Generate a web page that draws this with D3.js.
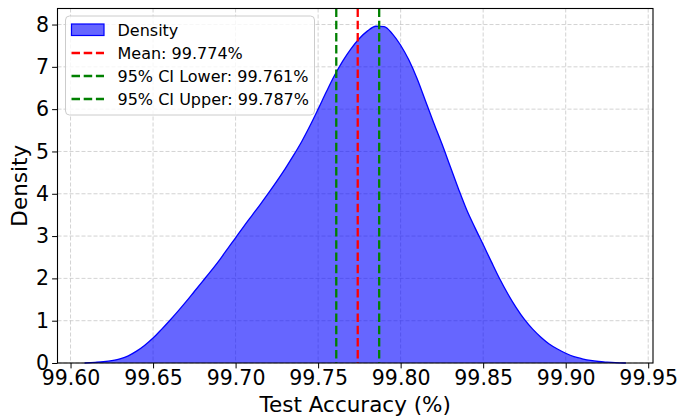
<!DOCTYPE html>
<html>
<head>
<meta charset="utf-8">
<script src="https://cdn.jsdelivr.net/npm/d3@7"></script>
<style>
  body { margin: 0; background: #fff; }
  svg { font-family: "DejaVu Sans", sans-serif; }
</style>
</head>
<body>
<div id="chart"></div>
<script>
// 1: DATA
const accuracy = [99.6085, 99.615, 99.620, 99.625, 99.630, 99.635, 99.640, 99.645, 99.650, 99.655,
    99.660, 99.665, 99.670, 99.675, 99.680, 99.685, 99.690, 99.695, 99.700, 99.705,
    99.710, 99.715, 99.720, 99.725, 99.730, 99.735, 99.740, 99.745, 99.750, 99.755,
    99.760, 99.765, 99.770, 99.775, 99.780, 99.785, 99.790, 99.795, 99.800, 99.805,
    99.810, 99.815, 99.820, 99.825, 99.830, 99.835, 99.840, 99.845, 99.850, 99.855,
    99.860, 99.865, 99.870, 99.875, 99.880, 99.885, 99.890, 99.895, 99.900, 99.905,
    99.910, 99.915, 99.920, 99.925, 99.930, 99.9365];
const density = [0.00, 0.015, 0.03, 0.055, 0.10, 0.17, 0.28, 0.42, 0.59, 0.79,
    1.00, 1.22, 1.45, 1.69, 1.93, 2.17, 2.42, 2.69, 2.96, 3.23,
    3.49, 3.75, 4.02, 4.30, 4.59, 4.90, 5.23, 5.60, 6.00, 6.41,
    6.80, 7.14, 7.43, 7.67, 7.85, 7.96, 7.95, 7.78, 7.51, 7.16,
    6.72, 6.20, 5.68, 5.18, 4.65, 4.12, 3.62, 3.20, 2.80, 2.39,
    1.99, 1.63, 1.31, 1.03, 0.80, 0.61, 0.45, 0.33, 0.23, 0.15,
    0.10, 0.06, 0.035, 0.02, 0.008, 0.00];
const xTicks = [99.60, 99.65, 99.70, 99.75, 99.80, 99.85, 99.90, 99.95];
const yTicks = [0, 1, 2, 3, 4, 5, 6, 7, 8];
const refLines = [
    { label: "Mean: 99.774%", value: 99.774, color: "red" },
    { label: "95% CI Lower: 99.761%", value: 99.761, color: "green" },
    { label: "95% CI Upper: 99.787%", value: 99.787, color: "green" }
];

const data = accuracy.map((a, i) => ({ x: a, y: density[i] }));

// 2: LAYOUT
const W = 678, H = 418;
const plot = { left: 57.5, right: 653, top: 8.5, bottom: 363 };

const svg = d3.select("#chart").append("svg")
    .attr("width", W)
    .attr("height", H);

// 3: SCALES
const xPad = (d3.max(accuracy) - d3.min(accuracy)) * 0.05;
const x = d3.scaleLinear()
    .domain([d3.min(accuracy) - xPad, d3.max(accuracy) + xPad])
    .range([plot.left, plot.right]);

const y = d3.scaleLinear()
    .domain([0, 7.98 * 1.05])
    .range([plot.bottom, plot.top]);

// grid
const grid = svg.append("g")
    .attr("stroke", "#b0b0b0")
    .attr("stroke-opacity", 0.7)
    .attr("stroke-width", 0.8)
    .attr("stroke-dasharray", "4,2");

grid.selectAll(".gx").data(xTicks).enter().append("line")
    .attr("x1", d => x(d)).attr("x2", d => x(d))
    .attr("y1", plot.top).attr("y2", plot.bottom);

grid.selectAll(".gy").data(yTicks).enter().append("line")
    .attr("x1", plot.left).attr("x2", plot.right)
    .attr("y1", d => y(d)).attr("y2", d => y(d));

// 4: PLOT DATA
svg.append("path")
    .datum(data)
    .attr("fill", "blue")
    .attr("fill-opacity", 0.6)
    .attr("d", d3.area()
        .x(d => x(d.x))
        .y0(y(0))
        .y1(d => y(d.y))
        .curve(d3.curveMonotoneX));

svg.append("path")
    .datum(data)
    .attr("fill", "none")
    .attr("stroke", "blue")
    .attr("stroke-width", 1.3)
    .attr("d", d3.line()
        .x(d => x(d.x))
        .y(d => y(d.y))
        .curve(d3.curveMonotoneX));

svg.selectAll(".ref")
    .data(refLines)
    .enter()
    .append("line")
    .attr("x1", d => x(d.value)).attr("x2", d => x(d.value))
    .attr("y1", plot.top).attr("y2", plot.bottom)
    .attr("stroke", d => d.color)
    .attr("stroke-width", 2.3)
    .attr("stroke-dasharray", "8.5,3.7");

// 5: AXES
const xAxis = svg.append("g")
    .attr("transform", `translate(0,${plot.bottom})`)
    .call(d3.axisBottom(x).tickValues(xTicks).tickFormat(d3.format(".2f")).tickSize(5.4).tickPadding(2.5));

const yAxis = svg.append("g")
    .attr("transform", `translate(${plot.left},0)`)
    .call(d3.axisLeft(y).tickValues(yTicks).tickFormat(d3.format("d")).tickSize(5.4).tickPadding(3));

[xAxis, yAxis].forEach(g => {
    g.select(".domain").remove();
    g.selectAll("line").attr("stroke", "#000").attr("stroke-width", 1);
    g.selectAll("text").attr("fill", "#000").attr("font-size", "20.5px")
        .attr("font-family", "DejaVu Sans, sans-serif");
});

// frame
svg.append("rect")
    .attr("x", plot.left).attr("y", plot.top)
    .attr("width", plot.right - plot.left)
    .attr("height", plot.bottom - plot.top)
    .attr("fill", "none")
    .attr("stroke", "#000")
    .attr("stroke-width", 1.1);

// 6: LABELS
svg.append("text")
    .attr("x", (plot.left + plot.right) / 2)
    .attr("y", 412)
    .attr("text-anchor", "middle")
    .attr("font-size", "21.5px")
    .text("Test Accuracy (%)");

svg.append("text")
    .attr("transform", `translate(27,${(plot.top + plot.bottom) / 2}) rotate(-90)`)
    .attr("text-anchor", "middle")
    .attr("font-size", "21.5px")
    .text("Density");

// legend
const legend = svg.append("g").attr("transform", "translate(65.5,16)");
legend.append("rect")
    .attr("width", 249).attr("height", 99)
    .attr("rx", 4)
    .attr("fill", "#fff").attr("fill-opacity", 0.8)
    .attr("stroke", "#cccccc");

legend.append("rect")
    .attr("x", 6).attr("y", 8)
    .attr("width", 32.5).attr("height", 11.5)
    .attr("fill", "blue").attr("fill-opacity", 0.6)
    .attr("stroke", "blue").attr("stroke-width", 1.2);

legend.selectAll(".lh")
    .data(refLines)
    .enter()
    .append("line")
    .attr("x1", 6).attr("x2", 38.5)
    .attr("y1", (d, i) => 37 + i * 23).attr("y2", (d, i) => 37 + i * 23)
    .attr("stroke", d => d.color)
    .attr("stroke-width", 2.3)
    .attr("stroke-dasharray", "8.5,3.7");

const labels = ["Density"].concat(refLines.map(d => d.label));
legend.selectAll(".lt")
    .data(labels)
    .enter()
    .append("text")
    .attr("x", 52)
    .attr("y", (d, i) => 14 + i * 23)
    .attr("dy", "0.35em")
    .attr("font-size", "16px")
    .text(d => d);
</script>
</body>
</html>
